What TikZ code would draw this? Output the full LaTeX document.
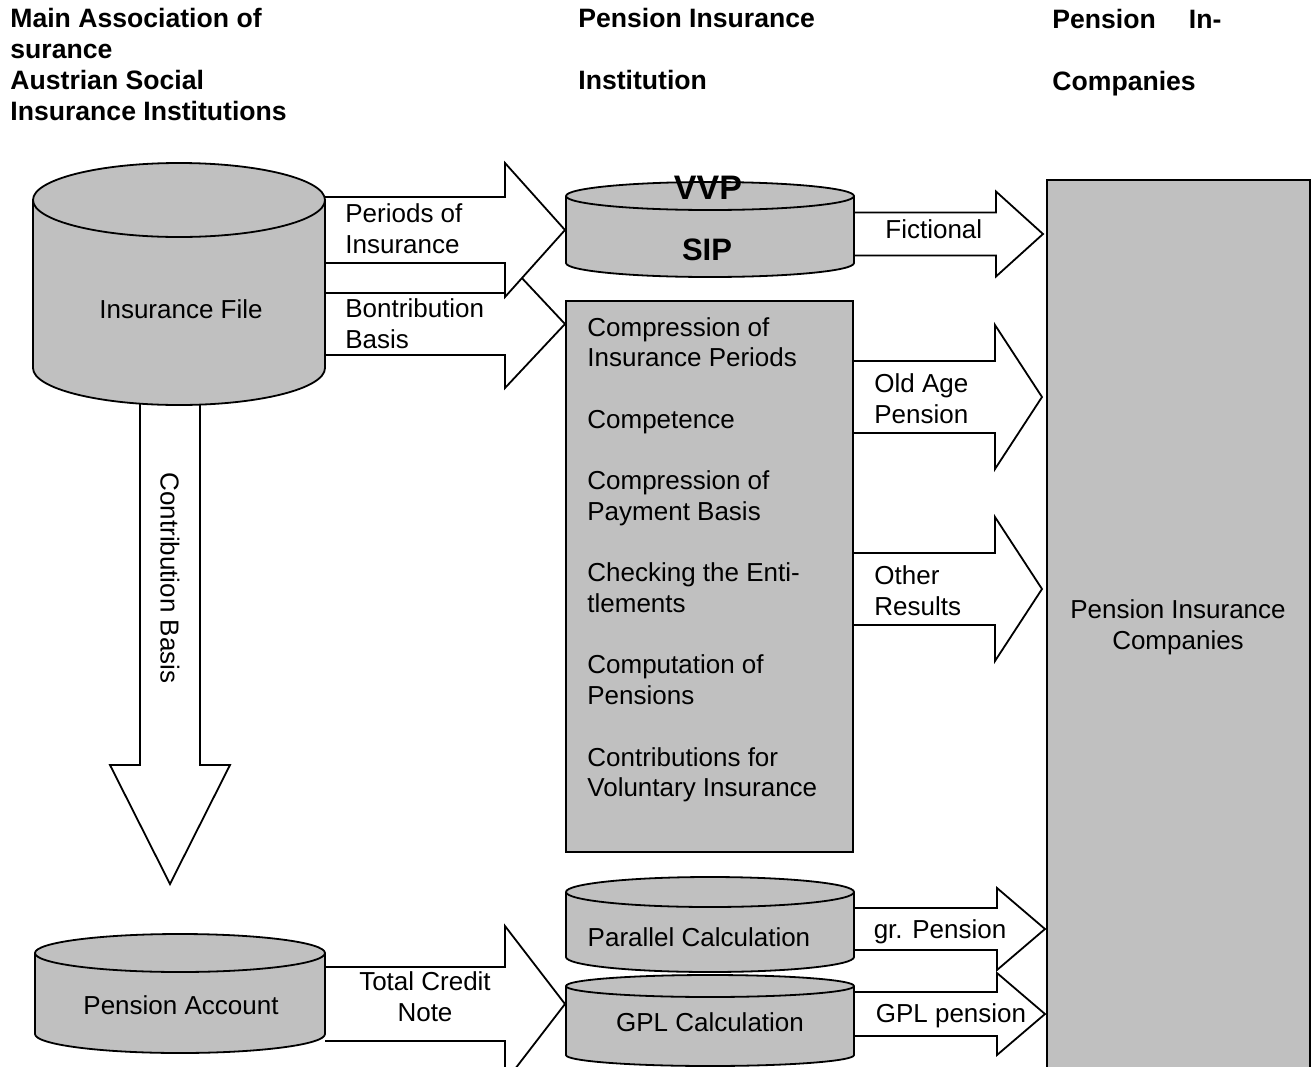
\documentclass[tikz,border=0pt]{standalone}
\usepackage{fontspec}
\setmainfont{Liberation Sans}

\definecolor{drumgray}{RGB}{192,192,192}

\tikzset{
  every node/.style={font=\fontsize{13}{15.35}\selectfont, inner sep=0pt},
  head/.style   ={font=\fontsize{13.3}{15.5}\selectfont\bfseries, align=left, anchor=west},
  tag/.style    ={align=left, anchor=west},
  drumline/.style ={draw=black, line width=0.9pt, fill=drumgray},
  bigarrow/.style ={draw=black, line width=0.9pt, fill=white, line join=miter},
  boxline/.style  ={draw=black, line width=0.9pt, fill=drumgray, rectangle}
}

% cylinder: centre x, top y, bottom y, half width, ellipse half height
\newcommand{\drum}[5]{%
  \path[drumline] (#1-#4,#2+#5) -- (#1-#4,#3-#5)
    arc[start angle=180, end angle=0, x radius=#4, y radius=#5]
    -- (#1+#4,#2+#5)
    arc[start angle=0, end angle=-180, x radius=#4, y radius=#5] -- cycle;
  \draw[line width=0.9pt] (#1-#4,#2+#5)
    arc[start angle=180, end angle=0, x radius=#4, y radius=#5];
}

% block arrow to the right: tail x, tip x, mid y, shaft half, head half, head length
\newcommand{\rarrow}[6]{%
  \path[bigarrow] (#1,#3-#4) -- (#2-#6,#3-#4) -- (#2-#6,#3-#5) -- (#2,#3)
    -- (#2-#6,#3+#5) -- (#2-#6,#3+#4) -- (#1,#3+#4);
}

\begin{document}
\begin{tikzpicture}[x=0.5pt, y=-0.5pt]
\useasboundingbox (0,0) rectangle (1314,1067);

% column heads
\node [head] (hdmain) at (10,64)   {Main Association of\\surance\\Austrian Social\\Insurance Institutions};
\node [head] (hdpii)  at (578,49)  {Pension Insurance\\[\baselineskip]Institution};
\node [head] (hdpic)  at (1052,53) {Pension\hspace{16.5pt}In-\\[\baselineskip]Companies};

% block arrows (drawn first, the stores lie on top)
\path[bigarrow] (140,380) -- (140,765) -- (110,765) -- (170,884)
  -- (230,765) -- (200,765) -- (200,380);
\rarrow{325}{565}{324}{31}{64}{60}
\rarrow{325}{565}{230}{33}{67}{60}
\rarrow{854}{1043}{234}{21.5}{42.5}{47}
\rarrow{854}{1042}{397}{36}{72}{47}
\rarrow{854}{1042}{589}{36}{72}{47}
\rarrow{325}{565}{1004}{37}{78}{60}
\rarrow{854}{1045}{1014}{22}{41}{48}
\rarrow{854}{1045}{929}{21}{41}{48}

% stores
\drum{179}{163}{405}{146}{37}
\drum{710}{182}{277}{144}{14}
\drum{180}{934}{1053}{145}{19}
\drum{710}{975}{1066}{144}{11}
\drum{710}{877}{972}{144}{15}

% boxes
\node [boxline, minimum width=143.5pt, minimum height=275.5pt] (proc)  at (709.5,576.5) {};
\node [boxline, minimum width=131.5pt, minimum height=450pt]   (picbox) at (1178.5,630) {};

% texts of the stores and boxes
\node (insfile) at (181,309)  {Insurance File};
\node (penacc)  at (181,1005) {Pension Account};
\node [font=\fontsize{17}{19}\selectfont\bfseries]   (vvp) at (708,188) {VVP};
\node [font=\fontsize{15.5}{18}\selectfont\bfseries] (sip) at (707,250) {SIP};
\node (parcalc) at (699,937)  {Parallel Calculation};
\node (gplcalc) at (710,1022) {GPL Calculation};
\node [tag, anchor=north west] (proclist) at (587,317)
  {Compression of\\Insurance Periods\\[\baselineskip]Competence\\[\baselineskip]%
   Compression of\\Payment Basis\\[\baselineskip]Checking the Enti-\\tlements\\[\baselineskip]%
   Computation of\\Pensions\\[\baselineskip]Contributions for\\Voluntary Insurance};
\node [align=center] (pictext) at (1178,627) {Pension Insurance\\Companies};

% arrow labels
\node [rotate=-90] (contrib) at (170,578) {Contribution Basis};
\node [tag] (periods)  at (345,229) {Periods of\\Insurance};
\node [tag] (bontrib)  at (345,324) {Bontribution\\Basis};
\node [tag] (fiction)  at (885,229) {Fictional};
\node [tag] (oldage)   at (874,399) {Old Age\\Pension};
\node [tag] (other)    at (874,591) {Other\\Results};
\node [align=center] (credit) at (425,997) {Total Credit\\Note};
\node (grpen)  at (940,932)  {gr. Pension};
\node (gplpen) at (951,1016) {GPL pension};

\end{tikzpicture}
\end{document}
